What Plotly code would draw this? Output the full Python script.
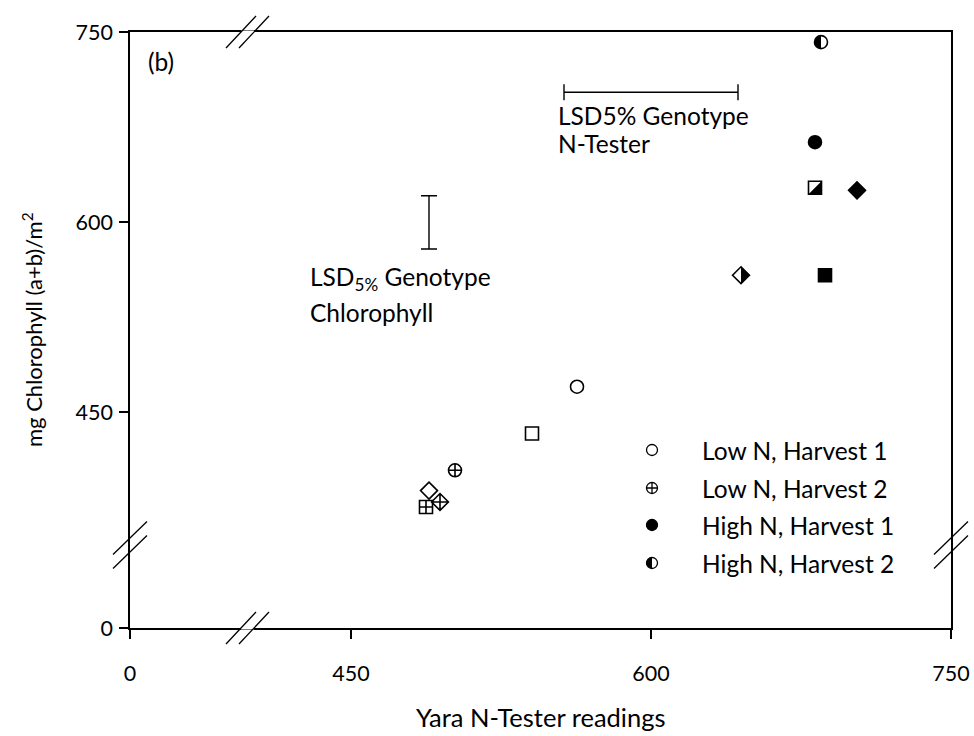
import plotly.graph_objects as go

# ---------------- data ----------------
# genotypes: circle, square, diamond
genotype_symbols = ["circle", "square", "diamond"]

lowN_h1_x = [563, 540.5, 489]
lowN_h1_y = [470, 433, 388]

lowN_h2_x = [502, 487.5, 494.5]
lowN_h2_y = [404, 375, 379]

highN_h1_x = [682, 687, 703]
highN_h1_y = [663, 558, 625]

highN_h2_x = [685, 682, 645]
highN_h2_y = [742, 627, 558]

series_names = ["Low N, Harvest 1", "Low N, Harvest 2", "High N, Harvest 1", "High N, Harvest 2"]

# LSD bars
lsd_chl_x = 489
lsd_chl_y = 599.75
lsd_chl_half = 21
lsd_nt_x = 600
lsd_nt_y = 702.4
lsd_nt_half = 43.5

# broken axes: the "0" tick sits just left of the break
x_zero_pos = 339.5
y_zero_pos = 279.5
x_tickvals = [x_zero_pos, 450, 600, 750]
x_ticktext = ["0", "450", "600", "750"]
y_tickvals = [y_zero_pos, 450, 600, 750]
y_ticktext = ["0", "450", "600", "750"]

# ---------------- layout geometry ----------------
W, H = 974, 736
L, R, T, B = 130, 951, 32, 628
FONT = "Lato"
FS = 24.5
TICK_FS = 21.5


def px(x):
    return (x - L) / (R - L)


def py(y):
    return 1 - (y - T) / (B - T)


fig = go.Figure()

MS = 13
LW = 1.6
open_sym = [s + "-open" for s in genotype_symbols]
cross_sym = [s + "-cross-open" for s in genotype_symbols]

fig.add_trace(go.Scatter(x=lowN_h1_x, y=lowN_h1_y, mode="markers", name=series_names[0],
                         marker=dict(symbol=open_sym, size=MS, color="black", line=dict(width=LW, color="black")),
                         showlegend=False))
fig.add_trace(go.Scatter(x=lowN_h2_x, y=lowN_h2_y, mode="markers", name=series_names[1],
                         marker=dict(symbol=cross_sym, size=MS, color="black", line=dict(width=LW, color="black")),
                         showlegend=False))
fig.add_trace(go.Scatter(x=highN_h1_x, y=highN_h1_y, mode="markers", name=series_names[2],
                         marker=dict(symbol=genotype_symbols, size=MS, color="black", line=dict(width=LW, color="black")),
                         showlegend=False))
fig.add_trace(go.Scatter(x=highN_h2_x, y=highN_h2_y, mode="markers", name=series_names[3],
                         marker=dict(symbol=open_sym, size=MS, color="black", line=dict(width=LW, color="black")),
                         showlegend=False))

# LSD bars
fig.add_trace(go.Scatter(x=[lsd_chl_x], y=[lsd_chl_y], mode="markers", marker=dict(size=1, opacity=0),
                         error_y=dict(type="constant", value=lsd_chl_half, color="black", thickness=1.4, width=8),
                         showlegend=False, hoverinfo="skip"))
fig.add_trace(go.Scatter(x=[lsd_nt_x], y=[lsd_nt_y], mode="markers", marker=dict(size=1, opacity=0),
                         error_x=dict(type="constant", value=lsd_nt_half, color="black", thickness=1.4, width=8),
                         showlegend=False, hoverinfo="skip"))

shapes = []
k = 0.5523


def half_path(sym, r):
    # filled half for the "half" symbols, pixel path relative to centre (y up)
    if sym == "circle":  # left half filled
        return (f"M0,{r} C{-k*r},{r} {-r},{k*r} {-r},0 C{-r},{-k*r} {-k*r},{-r} 0,{-r} Z")
    if sym == "square":  # lower-right triangle filled
        return f"M{r},{r} L{r},{-r} L{-r},{-r} Z"
    if sym == "diamond":  # right half filled
        return f"M0,{r} L{r},0 L0,{-r} Z"


for sym, xv, yv in zip(genotype_symbols, highN_h2_x, highN_h2_y):
    r = MS / 2 if sym != "diamond" else MS * 1.3 / 2
    shapes.append(dict(type="path", xref="x", yref="y", xsizemode="pixel", ysizemode="pixel",
                       xanchor=xv, yanchor=yv, path=half_path(sym, r),
                       fillcolor="black", line=dict(width=0), layer="above"))

# axis breaks
BLW = 1.3


def brk_line(x0, y0, x1, y1, color="black", w=BLW):
    shapes.append(dict(type="line", xref="paper", yref="paper", x0=px(x0), y0=py(y0), x1=px(x1), y1=py(y1),
                       line=dict(color=color, width=w), layer="above"))


# top & bottom (x-axis) breaks
for yc in (T, B):
    brk_line(241, yc, 254, yc, color="white", w=3)
    for dx in (-6.5, 6.5):
        xc = 247.5 + dx
        brk_line(xc - 15, yc + 16, xc + 15, yc - 16)
# left & right (y-axis) breaks
for xc in (L, R):
    for dy in (-7, 7):
        yc = 545 + dy
        brk_line(xc - 17, yc + 16.5, xc + 17, yc - 16.5)

# legend (manual)
leg_x = 652
leg_y = [450, 488, 525, 563]
lr = 5.5
for i, yy in enumerate(leg_y):
    cx, cy = px(leg_x), py(yy)
    base = dict(xref="paper", yref="paper", xsizemode="pixel", ysizemode="pixel", xanchor=cx, yanchor=cy,
                layer="above")
    circ = f"M{lr},0 C{lr},{k*lr} {k*lr},{lr} 0,{lr} C{-k*lr},{lr} {-lr},{k*lr} {-lr},0 C{-lr},{-k*lr} {-k*lr},{-lr} 0,{-lr} C{k*lr},{-lr} {lr},{-k*lr} {lr},0 Z"
    if i == 2:
        shapes.append(dict(type="path", path=circ, fillcolor="black", line=dict(color="black", width=1.3), **base))
    else:
        shapes.append(dict(type="path", path=circ, fillcolor="white", line=dict(color="black", width=1.3), **base))
    if i == 1:
        shapes.append(dict(type="path", path=f"M{-lr},0 L{lr},0 M0,{-lr} L0,{lr}", line=dict(color="black", width=1.3), **base))
    if i == 3:
        shapes.append(dict(type="path", path=half_path("circle", lr), fillcolor="black", line=dict(width=0), **base))

annotations = []


def txt(x, y, s, anchor="left", angle=0, size=FS):
    annotations.append(dict(x=px(x), y=py(y), xref="paper", yref="paper", text=s, showarrow=False,
                            xanchor=anchor, yanchor="middle", textangle=angle,
                            font=dict(family=FONT, size=size, color="black")))


for name, yy in zip(series_names, leg_y):
    txt(700, yy, name)

txt(146, 62, "(b)")
txt(556, 115, "LSD5% Genotype")
txt(556, 143, "N-Tester")
txt(308, 278, "LSD<sub>5%</sub> Genotype")
txt(308, 312, "Chlorophyll")
txt(540.5, 717, "Yara N-Tester readings", anchor="center", size=25.5)
txt(32, 330, "mg Chlorophyll (a+b)/m<sup>2</sup>", anchor="center", angle=-90, size=22)

axis_common = dict(showgrid=False, zeroline=False, showline=True, linecolor="black", linewidth=1.5,
                   mirror=True, ticks="outside", ticklen=9, tickwidth=1.5, tickcolor="black",
                   tickfont=dict(family=FONT, size=TICK_FS, color="black"))

fig.update_layout(
    width=W, height=H,
    margin=dict(l=L, r=W - R, t=T, b=H - B, autoexpand=False),
    paper_bgcolor="white", plot_bgcolor="white",
    xaxis=dict(range=[x_zero_pos, 750], tickmode="array", tickvals=x_tickvals, ticktext=x_ticktext,
               ticklabelstandoff=16, **axis_common),
    yaxis=dict(range=[y_zero_pos, 750], tickmode="array", tickvals=y_tickvals, ticktext=y_ticktext,
               ticklabelstandoff=2, **axis_common),
    shapes=shapes, annotations=annotations, showlegend=False,
)

fig.write_html("out.html")
